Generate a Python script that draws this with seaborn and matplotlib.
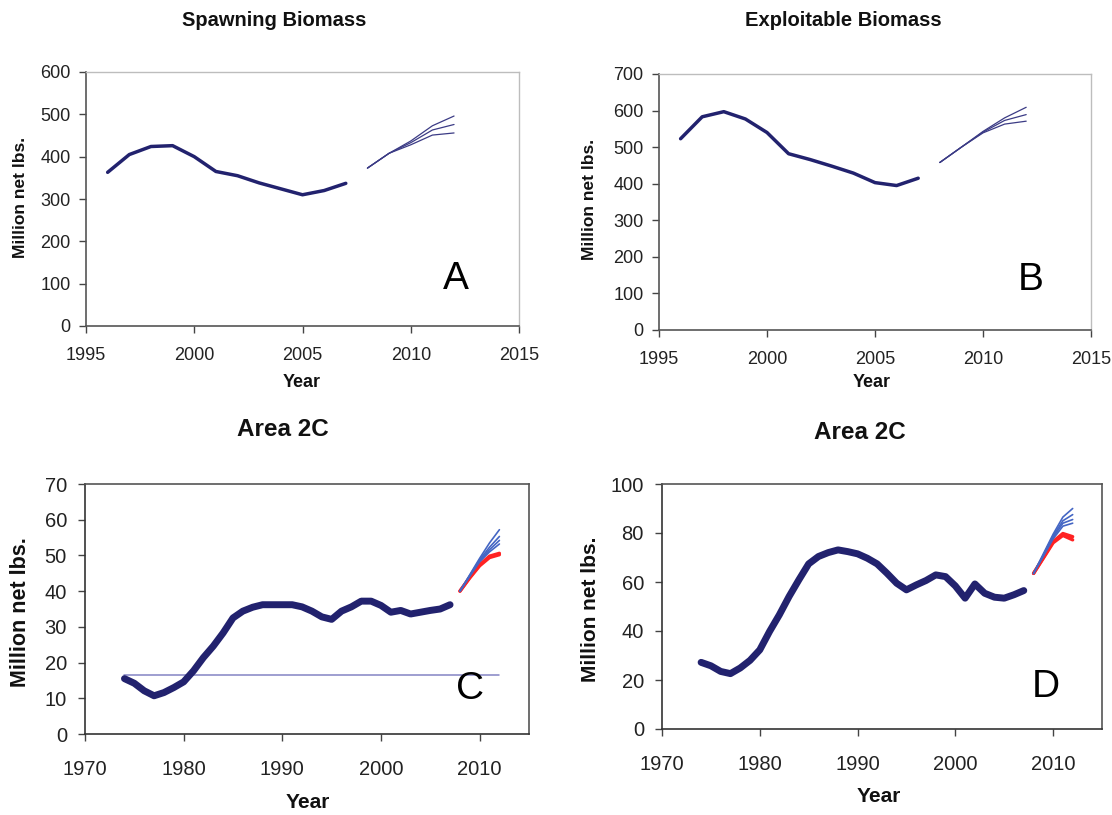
import numpy as np
import pandas as pd
import matplotlib
matplotlib.use("Agg")
import matplotlib.pyplot as plt
import seaborn as sns

sns.set_theme(style="white")
plt.rcParams['font.family'] = ['Liberation Sans', 'DejaVu Sans']

# ---------------- data ----------------
years_ab = list(range(1996, 2008))
proj_years = list(range(2008, 2013))

spawn = [363, 405, 424, 426, 400, 365, 355, 338, 324, 310, 320, 337]
spawn_proj_hi = [373, 408, 437, 473, 496]
spawn_proj_mid = [373, 408, 433, 463, 476]
spawn_proj_lo = [373, 408, 428, 451, 456]

exploit = [523, 583, 597, 577, 540, 482, 466, 448, 429, 403, 395, 415]
exploit_proj_hi = [458, 500, 543, 580, 609]
exploit_proj_mid = [458, 500, 541, 573, 589]
exploit_proj_lo = [458, 500, 539, 563, 571]

years_cd = list(range(1974, 2008))
area2c_c = [15.5, 14.2, 12.1, 10.7, 11.6, 13.0, 14.6,
            17.7, 21.4, 24.6, 28.3, 32.5, 34.4, 35.5, 36.2, 36.2, 36.2,
            36.2, 35.6, 34.4, 32.8, 32.1, 34.4, 35.6, 37.2, 37.2, 36.0,
            34.1, 34.6, 33.6, 34.1, 34.6, 35.0, 36.2]
ref_line_c = 16.5
ref_years_c = [1974, 2012]
c_blue = [[40, 44.6, 49.2, 53.5, 57.2],
          [40, 44.4, 48.8, 52.3, 55.3],
          [40, 44.3, 48.5, 51.6, 54.2],
          [40, 44.2, 48.2, 51.0, 53.2]]
c_red = [[40, 43.9, 47.4, 49.8, 50.6],
         [40, 43.7, 47.1, 49.4, 50.2]]

area2c_d = [27.2, 25.8, 23.5, 22.6, 24.9, 28.0, 32.3,
            39.8, 46.6, 54.1, 60.9, 67.4, 70.4, 72.0, 73.1, 72.4, 71.5,
            69.7, 67.4, 63.6, 59.5, 56.8, 58.8, 60.6, 62.9, 62.2, 58.4,
            53.4, 59.2, 55.4, 53.8, 53.4, 54.8, 56.5]
d_blue = [[63.5, 71.5, 79.5, 86.5, 90.0],
          [63.5, 71.0, 78.8, 85.0, 87.5],
          [63.5, 70.8, 78.2, 84.0, 85.5],
          [63.5, 70.5, 77.6, 82.8, 84.0]]
d_red = [[63.5, 70.0, 76.5, 79.8, 78.5],
         [63.5, 69.7, 76.0, 79.0, 77.2]]

NAVY = "#22226e"
PROJ_NAVY = "#3b3b85"
BLUE = "#4466c4"
RED = "#ff2222"
REF = "#8484c4"

W, H = 1112, 815
fig = plt.figure(figsize=(W / 100, H / 100), dpi=100)
fig.patch.set_facecolor("white")


def rect(l, t, r, b):
    return [l / W, 1 - b / H, (r - l) / W, (b - t) / H]


def fx(x):
    return x / W


def fy(y):
    return 1 - y / H


def style_axes(ax, light_tr, fs, xpad, ypad):
    for s in ["left", "bottom"]:
        ax.spines[s].set_color("#555555" if light_tr else "#333333")
        ax.spines[s].set_linewidth(1.2)
    for s in ["top", "right"]:
        ax.spines[s].set_color("#bdbdbd" if light_tr else "#555555")
        ax.spines[s].set_linewidth(1.0 if light_tr else 1.2)
    ax.tick_params(axis="both", direction="out", length=5, width=1,
                   color="#444444", labelsize=fs, labelcolor="#222222",
                   bottom=True, left=True)
    ax.tick_params(axis="x", pad=xpad)
    ax.tick_params(axis="y", pad=ypad)
    ax.set_xlabel("")
    ax.set_ylabel("")
    ax.grid(False)
    leg = ax.get_legend()
    if leg is not None:
        leg.remove()


def proj_df(years, series):
    rows = []
    for i, s in enumerate(series):
        for y, v in zip(years, s):
            rows.append({"year": y, "value": v, "run": i})
    return pd.DataFrame(rows)


# ---------------- Panel A ----------------
axA = fig.add_axes(rect(86, 72, 519, 326))
sns.lineplot(x=years_ab, y=spawn, ax=axA, color=NAVY, linewidth=2.5)
dfA = proj_df(proj_years, [spawn_proj_hi, spawn_proj_mid, spawn_proj_lo])
sns.lineplot(data=dfA, x="year", y="value", units="run", estimator=None,
             ax=axA, color=PROJ_NAVY, linewidth=0.9)
axA.set_xlim(1995, 2015)
axA.set_ylim(0, 600)
axA.set_xticks([1995, 2000, 2005, 2010, 2015])
axA.set_yticks(range(0, 601, 100))
style_axes(axA, True, 13, 10, 6)

# ---------------- Panel B ----------------
axB = fig.add_axes(rect(659, 74, 1091, 330))
sns.lineplot(x=years_ab, y=exploit, ax=axB, color=NAVY, linewidth=2.5)
dfB = proj_df(proj_years, [exploit_proj_hi, exploit_proj_mid, exploit_proj_lo])
sns.lineplot(data=dfB, x="year", y="value", units="run", estimator=None,
             ax=axB, color=PROJ_NAVY, linewidth=0.9)
axB.set_xlim(1995, 2015)
axB.set_ylim(0, 700)
axB.set_xticks([1995, 2000, 2005, 2010, 2015])
axB.set_yticks(range(0, 701, 100))
style_axes(axB, True, 13, 10, 6)

# ---------------- Panel C ----------------
axC = fig.add_axes(rect(85, 484, 529, 734))
sns.lineplot(x=ref_years_c, y=[ref_line_c, ref_line_c], ax=axC, color=REF,
             linewidth=1.1)
sns.lineplot(x=years_cd, y=area2c_c, ax=axC, color=NAVY, linewidth=5.0)
dfCr = proj_df(proj_years, c_red)
sns.lineplot(data=dfCr, x="year", y="value", units="run", estimator=None,
             ax=axC, color=RED, linewidth=2.4)
dfCb = proj_df(proj_years, c_blue)
sns.lineplot(data=dfCb, x="year", y="value", units="run", estimator=None,
             ax=axC, color=BLUE, linewidth=1.2)
axC.set_xlim(1970, 2015)
axC.set_ylim(0, 70)
axC.set_xticks([1970, 1980, 1990, 2000, 2010])
axC.set_yticks(range(0, 71, 10))
style_axes(axC, False, 14.5, 14, 8)

# ---------------- Panel D ----------------
axD = fig.add_axes(rect(662, 484, 1102, 729))
sns.lineplot(x=years_cd, y=area2c_d, ax=axD, color=NAVY, linewidth=5.0)
dfDr = proj_df(proj_years, d_red)
sns.lineplot(data=dfDr, x="year", y="value", units="run", estimator=None,
             ax=axD, color=RED, linewidth=2.4)
dfDb = proj_df(proj_years, d_blue)
sns.lineplot(data=dfDb, x="year", y="value", units="run", estimator=None,
             ax=axD, color=BLUE, linewidth=1.2)
axD.set_xlim(1970, 2015)
axD.set_ylim(0, 100)
axD.set_xticks([1970, 1980, 1990, 2000, 2010])
axD.set_yticks(range(0, 101, 20))
style_axes(axD, False, 14.5, 14, 8)

# ---------------- texts ----------------
tc = "#111111"
fig.text(fx(274), fy(20), "Spawning Biomass", ha="center", va="center",
         fontsize=14.5, fontweight="bold", color=tc)
fig.text(fx(843), fy(21), "Exploitable Biomass", ha="center", va="center",
         fontsize=14.5, fontweight="bold", color=tc)
fig.text(fx(283), fy(430), "Area 2C", ha="center", va="center",
         fontsize=17.5, fontweight="bold", color=tc)
fig.text(fx(860), fy(432), "Area 2C", ha="center", va="center",
         fontsize=17.5, fontweight="bold", color=tc)

fig.text(fx(21), fy(197), "Million net lbs.", rotation=90, ha="center",
         va="center", fontsize=12.5, fontweight="bold", color=tc)
fig.text(fx(590), fy(199), "Million net lbs.", rotation=90, ha="center",
         va="center", fontsize=12.5, fontweight="bold", color=tc)
fig.text(fx(21), fy(612), "Million net lbs.", rotation=90, ha="center",
         va="center", fontsize=15.5, fontweight="bold", color=tc)
fig.text(fx(590), fy(609), "Million net lbs.", rotation=90, ha="center",
         va="center", fontsize=15, fontweight="bold", color=tc)

fig.text(fx(302), fy(383), "Year", ha="center", va="center",
         fontsize=13, fontweight="bold", color=tc)
fig.text(fx(872), fy(383), "Year", ha="center", va="center",
         fontsize=13, fontweight="bold", color=tc)
fig.text(fx(308), fy(803), "Year", ha="center", va="center",
         fontsize=15, fontweight="bold", color=tc)
fig.text(fx(879), fy(797), "Year", ha="center", va="center",
         fontsize=15, fontweight="bold", color=tc)

for lbl, x, y in [("A", 456, 279), ("B", 1031, 280), ("C", 470, 689),
                  ("D", 1046, 687)]:
    fig.text(fx(x), fy(y), lbl, ha="center", va="center", fontsize=28,
             color="black")

fig.savefig("out.png", dpi=100, facecolor="white")
